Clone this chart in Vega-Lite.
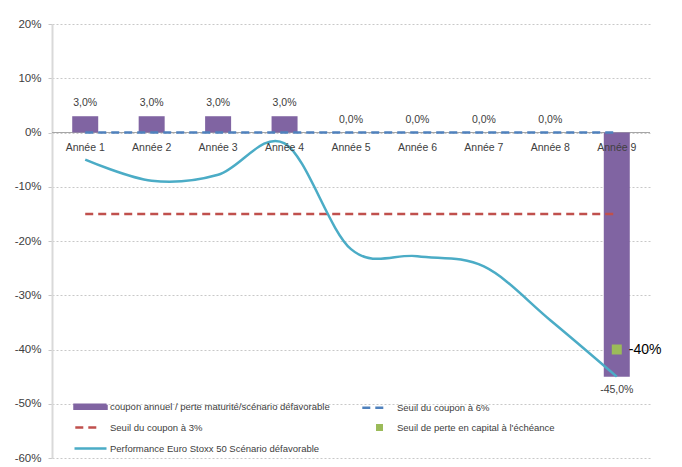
{
  "$schema": "https://vega.github.io/schema/vega-lite/v6.json",
  "width": 598,
  "height": 434,
  "autosize": {"type": "none"},
  "padding": {"left": 52, "top": 24, "right": 32, "bottom": 9},
  "background": "white",
  "config": {
    "view": {"stroke": null},
    "font": "Liberation Sans",
    "text": {"font": "Liberation Sans", "color": "#404040", "fontSize": 10}
  },
  "datasets": {
    "rows": [
      {"annee": "Année 1", "coupon": 3, "label": "3,0%", "perf": -5, "s6": 0, "s3": -15},
      {"annee": "Année 2", "coupon": 3, "label": "3,0%", "perf": -8.9, "s6": 0, "s3": -15},
      {"annee": "Année 3", "coupon": 3, "label": "3,0%", "perf": -7.8, "s6": 0, "s3": -15},
      {"annee": "Année 4", "coupon": 3, "label": "3,0%", "perf": -2, "s6": 0, "s3": -15},
      {"annee": "Année 5", "coupon": 0, "label": "0,0%", "perf": -21.5, "s6": 0, "s3": -15},
      {"annee": "Année 6", "coupon": 0, "label": "0,0%", "perf": -22.8, "s6": 0, "s3": -15},
      {"annee": "Année 7", "coupon": 0, "label": "0,0%", "perf": -24.7, "s6": 0, "s3": -15},
      {"annee": "Année 8", "coupon": 0, "label": "0,0%", "perf": -34.6, "s6": 0, "s3": -15},
      {"annee": "Année 9", "coupon": -45, "label": "-45,0%", "perf": -45, "s6": 0, "s3": -15, "perte": -40, "perteLabel": "-40%"}
    ]
  },
  "data": {"name": "rows"},
  "encoding": {
    "x": {
      "field": "annee",
      "type": "ordinal",
      "sort": null,
      "axis": null,
      "scale": {"paddingInner": 0, "paddingOuter": 0}
    }
  },
  "layer": [
    {
      "mark": {"type": "rule", "color": "#a6a6a6", "strokeWidth": 1},
      "encoding": {
        "x": null,
        "y": {
          "datum": 0,
          "type": "quantitative",
          "scale": {"domain": [-60, 20], "nice": false, "zero": false},
          "axis": {
            "title": null,
            "values": [20, 10, 0, -10, -20, -30, -40, -50, -60],
            "labelExpr": "datum.value + '%'",
            "labelFont": "Liberation Sans",
            "labelFontSize": 11.5,
            "labelColor": "#404040",
            "labelPadding": 7,
            "domainColor": "#d9d9d9",
            "domainWidth": 2,
            "ticks": true,
            "tickSize": 4,
            "tickColor": "#c8c8c8",
            "grid": true,
            "gridColor": "#c8c8c8",
            "gridDash": [2, 2],
            "gridWidth": 1
          }
        }
      }
    },
    {
      "mark": {"type": "bar", "size": 26},
      "encoding": {
        "y": {"field": "coupon", "type": "quantitative"},
        "y2": {"datum": 0},
        "color": {
          "datum": "coupon annuel / perte maturité/scénario défavorable",
          "type": "nominal",
          "scale": {
            "domain": [
              "coupon annuel / perte maturité/scénario défavorable",
              "Seuil du coupon à 6%",
              "Seuil du coupon à 3%",
              "Seuil de perte en capital à l'échéance",
              "Performance Euro Stoxx 50 Scénario défavorable"
            ],
            "range": ["#8064A2", "#4F81BD", "#C0504D", "#9BBB59", "#4BACC6"]
          },
          "legend": {
            "title": null,
            "orient": "none",
            "direction": "horizontal",
            "legendX": 21,
            "legendY": 373,
            "columns": 2,
            "columnPadding": 27,
            "rowPadding": 4,
            "padding": 0,
            "labelFont": "Liberation Sans",
            "labelFontSize": 9.5,
            "labelColor": "#404040",
            "labelOffset": 18,
            "labelLimit": 400,
            "symbolSize": 256,
            "encode": {
              "symbols": {
                "update": {
                  "shape": {"signal": "datum.value === 'coupon annuel / perte maturité/scénario défavorable' ? 'M-1,-0.26H3V0.26H-1Z' : datum.value === 'Seuil de perte en capital à l\\'échéance' ? 'M0.97,-0.28H1.53V0.28H0.97Z' : datum.value === 'Performance Euro Stoxx 50 Scénario défavorable' ? 'M-1,0H3' : 'M-0.9,0H1.9'"},
                  "fill": {"signal": "datum.value === 'coupon annuel / perte maturité/scénario défavorable' || datum.value === 'Seuil de perte en capital à l\\'échéance' ? scale('color', datum.value) : 'transparent'"},
                  "stroke": {"signal": "datum.value === 'coupon annuel / perte maturité/scénario défavorable' || datum.value === 'Seuil de perte en capital à l\\'échéance' ? 'transparent' : scale('color', datum.value)"},
                  "strokeDash": {"signal": "indexof(datum.value, 'Seuil du coupon') === 0 ? [8, 5] : [1, 0]"},
                  "strokeWidth": {"value": 2.5},
                  "opacity": {"value": 1}
                }
              }
            }
          }
        }
      }
    },
    {
      "transform": [{"filter": "datum.coupon >= 0"}],
      "mark": {"type": "text", "baseline": "bottom", "dy": -8, "fontSize": 10.5},
      "encoding": {
        "y": {"field": "coupon", "type": "quantitative"},
        "text": {"field": "label"}
      }
    },
    {
      "transform": [{"filter": "datum.coupon < 0"}],
      "mark": {"type": "text", "baseline": "top", "dy": 8, "fontSize": 10.5},
      "encoding": {
        "y": {"field": "coupon", "type": "quantitative"},
        "text": {"field": "label"}
      }
    },
    {
      "mark": {"type": "line", "strokeWidth": 2.5, "strokeDash": [8, 5]},
      "encoding": {
        "y": {"field": "s3", "type": "quantitative"},
        "color": {"datum": "Seuil du coupon à 3%", "type": "nominal"}
      }
    },
    {
      "mark": {"type": "line", "strokeWidth": 2.5, "strokeDash": [8, 5]},
      "encoding": {
        "y": {"field": "s6", "type": "quantitative"},
        "color": {"datum": "Seuil du coupon à 6%", "type": "nominal"}
      }
    },
    {
      "mark": {"type": "line", "strokeWidth": 2.5, "interpolate": "cardinal"},
      "encoding": {
        "y": {"field": "perf", "type": "quantitative"},
        "color": {"datum": "Performance Euro Stoxx 50 Scénario défavorable", "type": "nominal"}
      }
    },
    {
      "mark": {"type": "point", "shape": "square", "filled": true, "size": 100, "opacity": 1},
      "encoding": {
        "y": {"field": "perte", "type": "quantitative"},
        "color": {"datum": "Seuil de perte en capital à l'échéance", "type": "nominal"}
      }
    },
    {
      "mark": {"type": "text", "align": "left", "dx": 12, "fontSize": 14, "color": "#000000"},
      "encoding": {
        "y": {"field": "perte", "type": "quantitative"},
        "text": {"field": "perteLabel"}
      }
    },
    {
      "mark": {"type": "text", "baseline": "middle", "dy": 15, "fontSize": 10.5},
      "encoding": {
        "y": {"datum": 0, "type": "quantitative"},
        "text": {"field": "annee"}
      }
    }
  ]
}
